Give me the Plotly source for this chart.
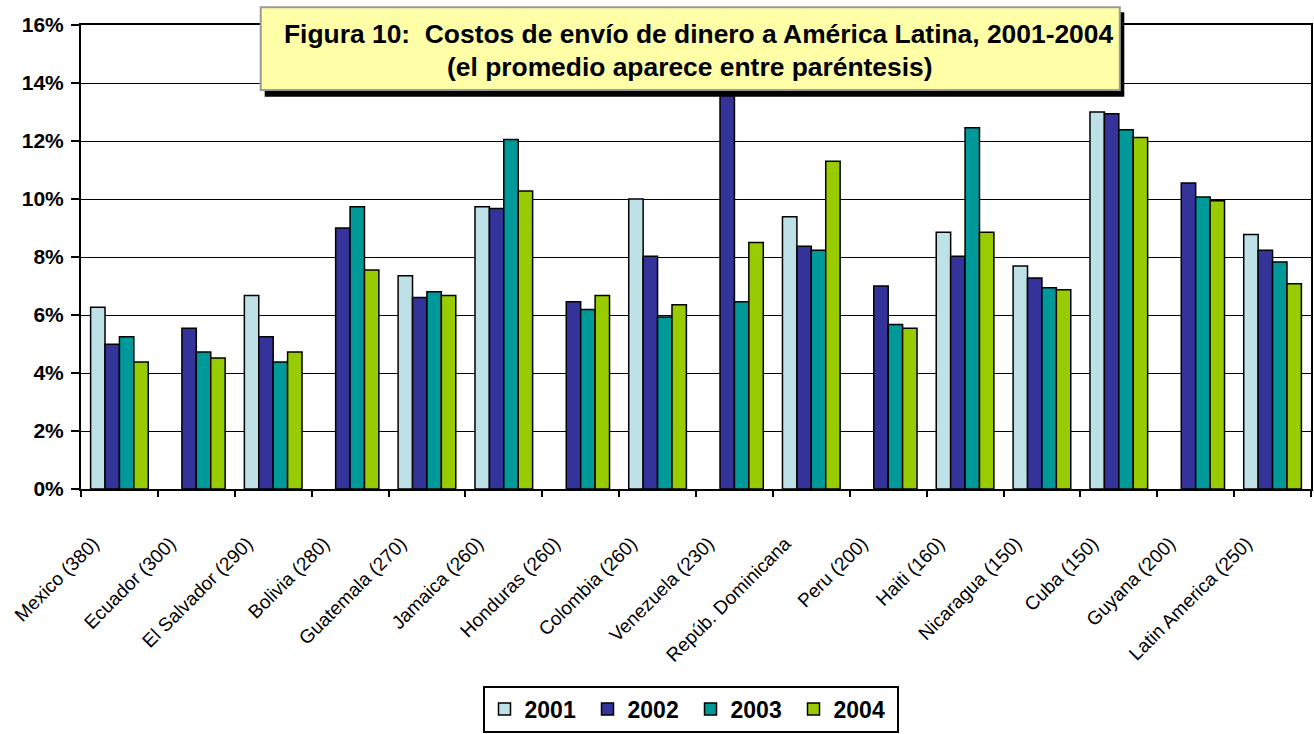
import plotly.graph_objects as go

countries = ["Mexico (380)", "Ecuador (300)", "El Salvador (290)", "Bolivia (280)",
             "Guatemala (270)", "Jamaica (260)", "Honduras (260)", "Colombia (260)",
             "Venezuela (230)", "Repúb. Dominicana", "Peru (200)", "Haiti (160)",
             "Nicaragua (150)", "Cuba (150)", "Guyana (200)", "Latin America (250)"]

y2001 = [6.27, None, 6.67, None, 7.35, 9.73, None, 10.0, None, 9.39, None, 8.85, 7.69, 13.0, None, 8.78]
y2002 = [4.99, 5.54, 5.25, 9.0, 6.6, 9.67, 6.46, 8.03, 14.5, 8.37, 7.0, 8.03, 7.28, 12.94, 10.55, 8.23]
y2003 = [5.25, 4.72, 4.38, 9.73, 6.8, 12.05, 6.19, 5.93, 6.46, 8.23, 5.67, 12.46, 6.94, 12.39, 10.07, 7.83]
y2004 = [4.38, 4.52, 4.72, 7.55, 6.67, 10.28, 6.67, 6.35, 8.5, 11.3, 5.54, 8.85, 6.87, 12.12, 9.94, 7.08]

series_names = ["2001", "2002", "2003", "2004"]
series_colors = ["#BDE1E6", "#333399", "#009999", "#99CC00"]
series_values = [y2001, y2002, y2003, y2004]

title_line1 = "Figura 10:  Costos de envío de dinero a América Latina, 2001-2004"
title_line2 = "(el promedio aparece entre paréntesis)"

FONT = "Arial, Liberation Sans, sans-serif"

fig = go.Figure()
for name, color, vals in zip(series_names, series_colors, series_values):
    fig.add_trace(go.Bar(
        x=countries, y=vals, name=name,
        marker=dict(color=color, line=dict(color="black", width=1.5)),
    ))

# plot-area pixel geometry
L, R, T, B = 81, 1313, 25, 497
W, H = R - L, B - T

def px(x):
    return (x - L) / W

def py(y):
    return (B - y) / H

fig.update_layout(
    width=1314, height=734,
    margin=dict(l=L, r=1314 - R, t=T, b=734 - B, pad=0),
    paper_bgcolor="white", plot_bgcolor="white",
    barmode="group", bargap=0.25, bargroupgap=0,
    font=dict(family=FONT, color="black"),
    showlegend=True,
    legend=dict(
        orientation="h", x=px(691.5), xanchor="center", y=py(697), yanchor="top",
        bordercolor="black", borderwidth=2, bgcolor="white",
        font=dict(family=FONT, size=23, color="black", weight="bold"),
        traceorder="normal", entrywidth=58, entrywidthmode="pixels",
    ),
    xaxis=dict(
        type="category", tickangle=-45,
        tickfont=dict(family=FONT, size=19, color="black"),
        showline=True, linecolor="black", linewidth=2, mirror=True,
        ticks="outside", ticklen=6, tickwidth=2, tickcolor="black",
        tickson="boundaries", showgrid=False,
        ticklabelstandoff=34, ticklabelshift=-26,
    ),
    yaxis=dict(
        range=[0, 16], dtick=2, ticksuffix="%",
        tickfont=dict(family=FONT, size=21, color="black", weight="bold"),
        showline=True, linecolor="black", linewidth=2, mirror=True,
        ticks="outside", ticklen=8, tickwidth=2, tickcolor="black",
        ticklabelstandoff=3,
        showgrid=True, gridcolor="black", gridwidth=1,
        zeroline=False,
    ),
    shapes=[
        dict(type="rect", xref="paper", yref="paper", layer="above",
             x0=px(265), x1=px(1126), y0=py(98), y1=py(12),
             fillcolor="black", line=dict(width=0)),
        dict(type="rect", xref="paper", yref="paper", layer="above",
             x0=px(261), x1=px(1121.5), y0=py(91), y1=py(7),
             fillcolor="#FFFFA8", line=dict(color="#9A9A9A", width=2)),
    ],
    annotations=[
        dict(text="<b>" + title_line1 + "</b>", xref="paper", yref="paper",
             x=px(700), y=py(34), xanchor="center", yanchor="middle", showarrow=False,
             font=dict(family=FONT, size=26.4, color="black")),
        dict(text="<b>" + title_line2 + "</b>", xref="paper", yref="paper",
             x=px(690), y=py(68), xanchor="center", yanchor="middle", showarrow=False,
             font=dict(family=FONT, size=26.4, color="black")),
    ],
)

fig.write_html("out.html", config={"displayModeBar": False},
               post_script="document.body.style.margin='0';document.body.style.overflow='hidden';")
